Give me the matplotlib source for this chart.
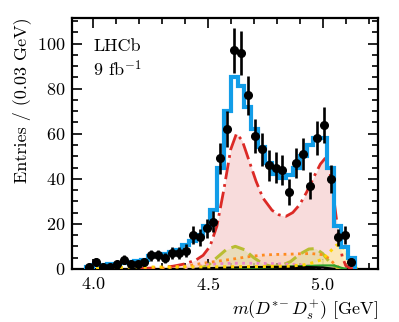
import numpy as np
import matplotlib
matplotlib.use("Agg")
import matplotlib.pyplot as plt
from matplotlib.ticker import MultipleLocator

# --- data ---
bin_edges = np.round(np.arange(3.97, 5.1401, 0.03), 3)
bin_centres = bin_edges[:-1] + 0.015
entries = [1, 3, 1, 1, 2, 4, 2, 2, 3, 6,
           6, 5, 7, 7, 8, 15, 14, 18, 21, 49,
           62, 97, 96, 77, 59, 53, 46, 45, 44, 34,
           47, 51, 37, 58, 64, 40, 14, 15, 3]
total_fit = [0.8, 1.5, 1.8, 2.0, 2.3, 2.8, 3.0, 3.5, 4.0, 5.5,
             6.0, 6.5, 7.5, 8.5, 10.5, 12.5, 15, 19, 26, 45,
             70, 85, 81, 72, 62, 54, 47, 42, 40.5, 41.5,
             45, 50, 55, 58, 58, 45, 19, 9.5, 5]

red_m = [4.20, 4.30, 4.35, 4.40, 4.45, 4.48, 4.51, 4.54, 4.57, 4.60, 4.625,
         4.65, 4.68, 4.71, 4.74, 4.78, 4.81, 4.84, 4.87, 4.90, 4.93, 4.96,
         4.99, 5.01, 5.025, 5.04, 5.055, 5.07, 5.085, 5.10, 5.12, 5.14]
red_y = [0.1, 0.6, 1.2, 2.2, 4.0, 6.0, 10, 19, 35, 53, 60,
         57, 48, 39, 31.5, 26, 24, 23.3, 25, 28.5, 34, 40.5,
         46.5, 49, 47, 38, 26, 14, 5.5, 1.5, 0.2, 0.0]

olive_m = [4.46, 4.50, 4.54, 4.58, 4.62, 4.66, 4.70, 4.74, 4.78, 4.82,
           4.86, 4.90, 4.94, 4.97, 5.00, 5.03, 5.06, 5.08]
olive_y = [0.0, 1.5, 5.0, 8.5, 10.0, 8.5, 5.0, 2.2, 1.0, 1.5,
           3.2, 6.5, 8.8, 9.0, 6.8, 3.0, 0.6, 0.0]

orange_m = [4.30, 4.40, 4.45, 4.50, 4.55, 4.60, 4.65, 4.70, 4.75, 4.80,
            4.85, 4.90, 4.95, 5.00, 5.03, 5.05, 5.07, 5.09]
orange_y = [0.3, 1.2, 2.0, 2.8, 3.5, 4.2, 5.0, 5.7, 6.2, 6.4,
            6.5, 6.7, 6.8, 6.3, 4.5, 2.2, 0.7, 0.0]

yellow_m = [3.98, 4.00, 4.10, 4.30, 4.50, 4.70, 4.85, 4.92, 4.96, 5.00,
            5.03, 5.06, 5.08, 5.10, 5.12, 5.14, 5.15]
yellow_y = [0.3, 0.5, 0.7, 0.8, 0.9, 1.0, 1.2, 1.8, 2.8, 4.3,
            7.5, 10.5, 10.8, 8.0, 4.0, 1.0, 0.0]

pink_m = [4.40, 4.45, 4.50, 4.55, 4.60, 4.70, 4.80, 4.90, 4.95, 5.00, 5.05]
pink_y = [0.3, 1.0, 1.8, 2.3, 2.5, 2.5, 2.3, 1.8, 1.2, 0.5, 0.0]

green_m = [4.50, 4.60, 4.70, 4.80, 4.90, 5.00, 5.05, 5.08, 5.10]
green_y = [0.0, 0.3, 0.5, 0.8, 1.2, 1.5, 1.5, 0.5, 0.0]

black_m = [4.45, 4.50, 4.70, 4.90, 5.00, 5.05]
black_y = [0.0, 0.3, 0.8, 0.9, 0.6, 0.0]

# --- style ---
plt.rcParams['font.family'] = ['cmr10']
plt.rcParams['mathtext.fontset'] = 'cm'
plt.rcParams['axes.formatter.use_mathtext'] = True
plt.rcParams['font.size'] = 13

fig = plt.figure(figsize=(3.99, 3.22), dpi=100)
ax = fig.add_axes([0.1805, 0.165, 0.7665, 0.780])

# filled components
ax.fill_between(red_m, red_y, color='#f8dcdc', lw=0, zorder=1)
ax.fill_between(orange_m, orange_y, color='#fbd3b0', alpha=0.6, lw=0, zorder=2)
ax.fill_between(olive_m, olive_y, color='#dcdc9a', alpha=0.5, lw=0, zorder=2)
ax.fill_between(yellow_m, yellow_y, color='#fff0a0', alpha=0.6, lw=0, zorder=2)

# component lines
ax.plot(red_m, red_y, color='#dc2a26', lw=2.0, ls=(0, (6, 1.8, 1, 1.8)), zorder=4)
ax.plot(olive_m, olive_y, color='#b9bd32', lw=2.2, ls=(0, (4.5, 2)), zorder=4)
ax.plot(orange_m, orange_y, color='#ff8a1e', lw=2.0, ls=(0, (1, 1.6)), zorder=4)
ax.plot(pink_m, pink_y, color='#e987c9', lw=2.0, ls=(0, (1, 1.6)), zorder=4)
ax.plot(green_m, green_y, color='#2ca02c', lw=1.6, zorder=4)
ax.plot(black_m, black_y, color='black', lw=1.6, zorder=4)
ax.plot(yellow_m, yellow_y, color='#ffd400', lw=2.2, ls=(0, (1, 1.6)), zorder=4)

# total fit
ax.stairs(total_fit, bin_edges, color='#129de8', lw=3.0, zorder=5)

# data
ax.errorbar(bin_centres, entries, yerr=np.sqrt(entries), fmt='o', color='black',
            ms=5.5, elinewidth=1.9, capsize=0, zorder=6)

ax.set_xlim(3.91, 5.24)
ax.set_ylim(0, 111.5)
ax.xaxis.set_major_locator(MultipleLocator(0.5))
ax.xaxis.set_minor_locator(MultipleLocator(0.1))
ax.yaxis.set_major_locator(MultipleLocator(20))
ax.yaxis.set_minor_locator(MultipleLocator(5))
ax.tick_params(which='both', direction='in', top=True, right=True, width=1.2)
ax.tick_params(which='major', length=7.5, pad=5)
ax.tick_params(which='minor', length=4)
for s in ax.spines.values():
    s.set_linewidth(1.6)

ax.set_xlabel(r'$m(D^{*\!-}D_s^{+})$ [GeV]', loc='right')
ax.set_ylabel('Entries / (0.03 GeV)', loc='top')

ax.text(0.07, 0.915, 'LHCb', transform=ax.transAxes, va='top', ha='left')
ax.text(0.07, 0.835, r'9 fb$^{-1}$', transform=ax.transAxes, va='top', ha='left')

fig.savefig('out.png', dpi=100)
